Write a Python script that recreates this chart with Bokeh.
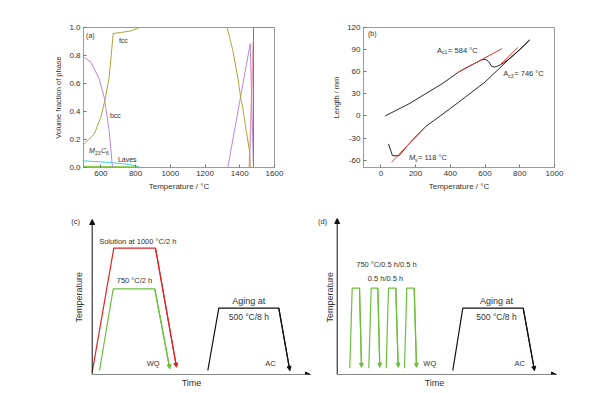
import math
from bokeh.plotting import figure
from bokeh.layouts import column, row
from bokeh.models import Label, Arrow, NormalHead, FixedTicker, Range1d, NumeralTickFormatter
from bokeh.embed import file_html
from bokeh.resources import INLINE

FONT = "Liberation Sans"
TXT = "#333333"

# ---------------- Panel (a): phase fractions ----------------
fcc_T = [500, 562, 600, 623, 648, 671, 715, 773, 821, 1327, 1360, 1388, 1408, 1417, 1437, 1456, 1460, 1600]
fcc_v = [0.163, 0.239, 0.359, 0.478, 0.646, 0.957, 0.964, 0.976, 1.0, 1.0, 0.837, 0.646, 0.478, 0.431, 0.263, 0.12, 0.0, 0.0]
bcc_T = [500, 542, 590, 619, 648, 667, 1331, 1460, 1479]
bcc_v = [0.789, 0.754, 0.634, 0.502, 0.263, 0.0, 0.0, 0.885, 0.0]
liq_T = [1479, 1479, 1600]
liq_v = [0.0, 1.0, 1.0]
liq2_T = [1455, 1478]
liq2_v = [0.0, 0.9]
m23_T = [500, 670, 760, 803, 825]
m23_v = [0.048, 0.034, 0.022, 0.012, 0.0]
lav_T = [500, 800, 830, 1600]
lav_v = [0.008, 0.004, 0.0, 0.0]

fa = figure(width=304, height=193, x_range=Range1d(500, 1600), y_range=Range1d(0, 1.0),
            output_backend="svg", toolbar_location=None, min_border=0,
            min_border_left=83, min_border_right=30, min_border_top=27, min_border_bottom=26)

fa.line(lav_T, lav_v, color="#8fcf4f", line_width=1.2)
fa.line(m23_T, m23_v, color="#3fd3dc", line_width=1)
fa.line(liq2_T, liq2_v, color="#f0a0a8", line_width=1.5)
fa.line(bcc_T, bcc_v, color="#b68ae8", line_width=1)
fa.line(fcc_T, fcc_v, color="#a8a838", line_width=1)
fa.line(liq_T, liq_v, color="#e85050", line_width=1)

# ---------------- Panel (b): dilatometry ----------------
heat_T = [25, 100, 162, 250, 352, 400, 447, 500, 550, 581, 600, 620, 638, 657, 680, 705, 733, 760, 800, 857]
heat_L = [0, 9, 16.4, 29, 43.6, 51.5, 59.5, 66.5, 72.5, 76, 77, 74, 67.3, 66.3, 68.5, 71.7, 76.4, 81.5, 90, 103]
cool_T = [857, 800, 733, 680, 600, 500, 400, 330, 257, 200, 150, 105, 67, 44]
cool_L = [103, 90, 76, 64, 46, 28, 10, -2, -14.6, -28.5, -41, -54, -54, -38]
tan1_T = [447, 699]
tan1_L = [59.5, 91.4]
tan2_T = [690, 790]
tan2_L = [70, 93]
tan3_T = [61, 257]
tan3_L = [-63, -14.6]

fb = figure(width=289, height=193, x_range=Range1d(-100, 1000), y_range=Range1d(-70, 120),
            output_backend="svg", toolbar_location=None, min_border=0,
            min_border_left=59, min_border_right=39, min_border_top=27, min_border_bottom=26)
fb.line(heat_T, heat_L, color="#111111", line_width=0.9)
fb.line(cool_T, cool_L, color="#111111", line_width=0.9)
for tx, ty in [(tan1_T, tan1_L), (tan2_T, tan2_L), (tan3_T, tan3_L)]:
    fb.line(tx, ty, color="#e83535", line_width=1)

for f in (fa, fb):
    f.grid.visible = False
    f.outline_line_color = "#9a9a9a"
    for ax in (f.xaxis[0], f.yaxis[0]):
        ax.axis_line_color = "#9a9a9a"
        ax.major_tick_line_color = "#777777"
        ax.minor_tick_line_color = None
        ax.major_tick_in = 3
        ax.major_tick_out = 0
        ax.major_label_text_font = FONT
        ax.major_label_text_font_size = "8px"
        ax.major_label_text_color = TXT
        ax.major_label_standoff = 3
        ax.axis_label_text_font = FONT
        ax.axis_label_text_font_style = "normal"
        ax.axis_label_text_color = TXT
        ax.axis_label_standoff = 3

fa.xaxis.ticker = FixedTicker(ticks=[600, 800, 1000, 1200, 1400, 1600])
fa.yaxis.ticker = FixedTicker(ticks=[0, 0.2, 0.4, 0.6, 0.8, 1.0])
fa.yaxis.formatter = NumeralTickFormatter(format="0.0")
fa.xaxis.axis_label = "Temperature / °C"
fa.yaxis.axis_label = "Volume fraction of phase"
fa.xaxis.axis_label_text_font_size = "8px"
fa.yaxis.axis_label_text_font_size = "7.5px"

b_yt = [-60, -30, 0, 30, 60, 90, 120]
fb.xaxis.ticker = FixedTicker(ticks=[0, 200, 400, 600, 800, 1000])
fb.yaxis.ticker = FixedTicker(ticks=b_yt)
fb.yaxis.major_label_overrides = {v: str(v) for v in b_yt}
fb.xaxis.axis_label = "Temperature / °C"
fb.yaxis.axis_label = "Length / mm"
fb.xaxis.axis_label_text_font_size = "8px"
fb.yaxis.axis_label_text_font_size = "7.5px"


def lab(f, x, y, t, size="7px", align="left", style="normal", xo=0, yo=0, color=TXT, angle=0):
    f.add_layout(Label(x=x, y=y, text=t, text_font=FONT, text_font_size=size, text_align=align,
                       text_baseline="middle", text_font_style=style, x_offset=xo, y_offset=yo,
                       text_color=color, angle=angle))

lab(fa, 515, 0.945, "(a)")
lab(fa, 704, 0.904, "fcc")
lab(fa, 652, 0.371, "bcc")
lab(fa, 531, 0.12, "M", style="italic")
lab(fa, 531, 0.12, "23", size="5px", xo=6, yo=-2)
lab(fa, 531, 0.12, "C", style="italic", xo=12)
lab(fa, 531, 0.12, "6", size="5px", xo=17, yo=-2)
lab(fa, 698, 0.06, "Laves")

lab(fb, -74, 112, "(b)")
lab(fb, 324, 89, "A", size="7.5px")
lab(fb, 324, 89, "c1", size="5px", xo=5, yo=-2)
lab(fb, 324, 89, "= 584 °C", size="7.5px", xo=11)
lab(fb, 705, 57.3, "A", size="7.5px")
lab(fb, 705, 57.3, "c3", size="5px", xo=5, yo=-2)
lab(fb, 705, 57.3, " = 746 °C", size="7.5px", xo=11)
lab(fb, 162, -56.5, "M", size="7.5px", style="italic")
lab(fb, 162, -56.5, "s", size="5px", xo=6, yo=-2)
lab(fb, 162, -56.5, " = 118 °C", size="7.5px", xo=9)

# ---------------- Panel (c): heat treatment schedule (schematic units) ----------------
c_red_t = [0, 21.6, 63.3, 84.3]
c_red_T = [2.3, 126.3, 126.3, 7.3]
c_grn_t = [7.3, 21, 62.6, 77.6]
c_grn_T = [4, 85.7, 85.7, 5.7]
c_blk_t = [115.6, 126.6, 186.6, 197.6]
c_blk_T = [4, 66.3, 66.3, 4]

# ---------------- Panel (d): cyclic schedule ----------------
d_cyc_t = [12.6, 15, 22.3, 24.3, 31.6, 34, 40.6, 42.6, 49, 51.3, 58.6, 61, 67.3, 69.6, 77, 79.3]
d_cyc_T = [6.3, 86.3, 86.3, 7.3] * 4
d_blk_t = [115.6, 125.6, 186, 197.3]
d_blk_T = [4, 66.3, 66.3, 4]

RED = "#e02525"
GRN = "#6cbf3c"
BLK = "#111111"


def schematic(width, left, right, x0, x1, xaxis_end, yaxis_end):
    f = figure(width=width, height=200, x_range=Range1d(x0, x1), y_range=Range1d(0, 169),
               output_backend="svg", toolbar_location=None, min_border=0,
               min_border_left=left, min_border_right=right, min_border_top=12, min_border_bottom=19)
    f.grid.visible = False
    f.outline_line_color = None
    f.yaxis.visible = False
    ax = f.xaxis[0]
    ax.ticker = FixedTicker(ticks=[])
    ax.axis_line_color = None
    ax.major_tick_line_color = None
    ax.minor_tick_line_color = None
    ax.major_tick_in = 0
    ax.major_tick_out = 0
    ax.minor_tick_in = 0
    ax.minor_tick_out = 0
    ax.major_label_standoff = 0
    ax.axis_label = "Time"
    ax.axis_label_standoff = 3
    ax.axis_label_text_font = FONT
    ax.axis_label_text_font_style = "normal"
    ax.axis_label_text_font_size = "9px"
    ax.axis_label_text_color = TXT
    f.add_layout(Arrow(end=NormalHead(size=5, fill_color=BLK, line_color=BLK), x_start=0, y_start=0,
                       x_end=xaxis_end, y_end=0, line_color=BLK, line_width=1))
    f.add_layout(Arrow(end=NormalHead(size=5, fill_color=BLK, line_color=BLK), x_start=0, y_start=0,
                       x_end=0, y_end=yaxis_end, line_color=BLK, line_width=1))
    return f


def profile(f, t, T, color):
    f.line(t, T, color=color, line_width=1.2)
    f.add_layout(Arrow(end=NormalHead(size=4, fill_color=color, line_color=color),
                       x_start=t[-2], y_start=T[-2], x_end=t[-1], y_end=T[-1],
                       line_color=color, line_width=1.2))


ROT = math.pi / 2

fc = schematic(312, 70, 0, -21.7, 220.3, 218.3, 155)
profile(fc, c_red_t, c_red_T, RED)
profile(fc, c_grn_t, c_grn_T, GRN)
profile(fc, c_blk_t, c_blk_T, BLK)
lab(fc, -16.7, 153, "(c)", size="7.5px", align="center")
lab(fc, -13.7, 77.3, "Temperature", size="9px", align="center", angle=ROT)
lab(fc, 45.6, 133.3, "Solution at 1000 °C/2 h", size="7.5px", align="center")
lab(fc, 42.3, 94, "750 °C/2 h", size="7.5px", align="center")
lab(fc, 156.6, 74, "Aging at", size="9px", align="center")
lab(fc, 156.6, 58, "500 °C/8 h", size="8.5px", align="center")
lab(fc, 61, 11.3, "WQ", size="7.5px", align="center")
lab(fc, 178.3, 11.3, "AC", size="7.5px", align="center")

fd = schematic(281, 0, 37, -24.7, 219.3, 219.3, 156)
for i in range(4):
    profile(fd, d_cyc_t[4 * i:4 * i + 4], d_cyc_T[4 * i:4 * i + 4], GRN)
profile(fd, d_blk_t, d_blk_T, BLK)
lab(fd, -14.7, 153, "(d)", size="7.5px", align="center")
lab(fd, -7.7, 77.3, "Temperature", size="9px", align="center", angle=ROT)
lab(fd, 49.3, 109.7, "750 °C/0.5 h/0.5 h", size="7.5px", align="center")
lab(fd, 48.3, 95.7, "0.5 h/0.5 h", size="7.5px", align="center")
lab(fd, 159.3, 74, "Aging at", size="9px", align="center")
lab(fd, 159.3, 58, "500 °C/8 h", size="8.5px", align="center")
lab(fd, 92.6, 11.3, "WQ", size="7.5px", align="center")
lab(fd, 182.6, 11.3, "AC", size="7.5px", align="center")

layout = column(row(fa, fb), row(fc, fd))
open("out.html", "w").write(file_html(layout, INLINE))
